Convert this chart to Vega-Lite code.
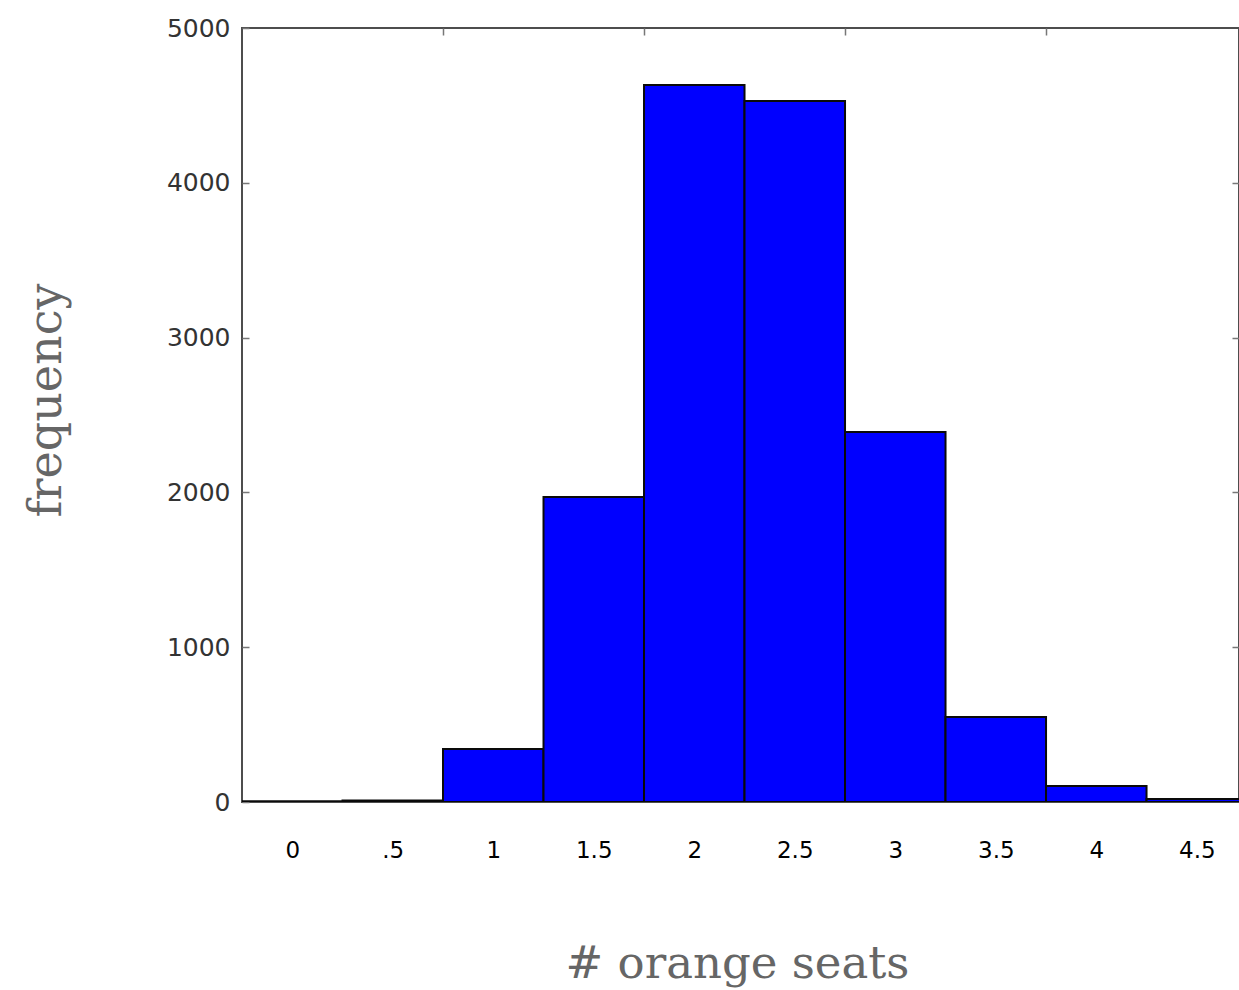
{
  "$schema": "https://vega.github.io/schema/vega-lite/v6.json",
  "autosize": {"type": "none"},
  "width": 997,
  "height": 774,
  "padding": {"left": 242, "top": 28, "right": 0, "bottom": 188},
  "background": "white",
  "config": {
    "view": {"stroke": "#4d4d4d", "strokeWidth": 2},
    "axis": {"grid": false, "domain": false, "labelFlush": false}
  },
  "data": {
    "values": [
      {"seats": 0.0, "lo": -0.25, "hi": 0.25, "count": 5},
      {"seats": 0.5, "lo": 0.25, "hi": 0.75, "count": 10},
      {"seats": 1.0, "lo": 0.75, "hi": 1.25, "count": 342},
      {"seats": 1.5, "lo": 1.25, "hi": 1.75, "count": 1970},
      {"seats": 2.0, "lo": 1.75, "hi": 2.25, "count": 4632},
      {"seats": 2.5, "lo": 2.25, "hi": 2.75, "count": 4528},
      {"seats": 3.0, "lo": 2.75, "hi": 3.25, "count": 2390},
      {"seats": 3.5, "lo": 3.25, "hi": 3.75, "count": 549},
      {"seats": 4.0, "lo": 3.75, "hi": 4.25, "count": 103},
      {"seats": 4.5, "lo": 4.25, "hi": 4.75, "count": 20}
    ]
  },
  "layer": [
    {
      "mark": {"type": "bar", "fill": "#0000ff", "stroke": "#0a0a0a", "strokeWidth": 2, "clip": true},
      "encoding": {
        "x": {
          "field": "lo", "type": "quantitative",
          "scale": {"domain": [-0.25, 4.71], "nice": false, "zero": false},
          "axis": {
            "orient": "bottom",
            "values": [0, 0.5, 1, 1.5, 2, 2.5, 3, 3.5, 4, 4.5],
            "format": ".1~f",
            "labelExpr": "datum.value == 0.5 ? '.5' : datum.label",
            "ticks": false,
            "labelFont": "DejaVu Sans",
            "labelFontSize": 23,
            "labelColor": "#000000",
            "labelBaseline": "alphabetic",
            "labelPadding": 55,
            "title": "# orange seats",
            "titleFont": "DejaVu Serif",
            "titleFontSize": 45,
            "titleFontWeight": "normal",
            "titleColor": "#666666",
            "titleBaseline": "alphabetic",
            "titleX": 495,
            "titleY": 175
          }
        },
        "x2": {"field": "hi"},
        "y": {
          "field": "count", "type": "quantitative",
          "scale": {"domain": [0, 5000], "nice": false},
          "axis": {
            "orient": "left",
            "values": [0, 1000, 2000, 3000, 4000, 5000],
            "format": "d",
            "ticks": true,
            "tickSize": -7,
            "tickColor": "#777777",
            "tickWidth": 1.5,
            "labelFont": "DejaVu Sans",
            "labelFontSize": 25,
            "labelColor": "#333333",
            "labelPadding": 19,
            "title": "frequency",
            "titleFont": "DejaVu Serif",
            "titleFontSize": 46,
            "titleFontWeight": "normal",
            "titleColor": "#666666",
            "titleAngle": -90,
            "titleBaseline": "alphabetic",
            "titleAlign": "center",
            "titleX": -182,
            "titleY": 372
          }
        },
        "y2": {"datum": 0}
      }
    },
    {
      "mark": {"type": "bar", "opacity": 0, "clip": true},
      "encoding": {
        "x": {
          "field": "lo", "type": "quantitative",
          "axis": {
            "orient": "top",
            "values": [0.75, 1.75, 2.75, 3.75],
            "labels": false,
            "ticks": true,
            "tickSize": -7,
            "tickColor": "#777777",
            "tickWidth": 1.5,
            "title": null
          }
        },
        "x2": {"field": "hi"},
        "y": {
          "field": "count", "type": "quantitative",
          "axis": {
            "orient": "right",
            "values": [1000, 2000, 3000, 4000],
            "labels": false,
            "ticks": true,
            "tickSize": -7,
            "tickColor": "#777777",
            "tickWidth": 1.5,
            "title": null
          }
        },
        "y2": {"datum": 0}
      }
    }
  ],
  "resolve": {"axis": {"x": "independent", "y": "independent"}}
}
